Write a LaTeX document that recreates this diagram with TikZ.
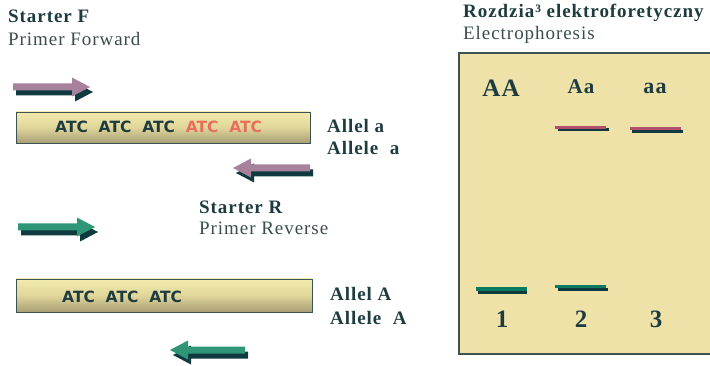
\documentclass[tikz,border=0pt]{standalone}
\usepackage{fontspec}
\setmainfont{Liberation Serif}[LetterSpace=5]
\newfontfamily\seqfont{DejaVu Sans}
\usepackage{tikz}
\definecolor{inkdark}{HTML}{1E3C40}
\definecolor{inkgray}{HTML}{3C4C4E}
\definecolor{shadowdark}{HTML}{0E3A40}
\definecolor{primerpurple}{HTML}{A8829C}
\definecolor{primergreen}{HTML}{2E9676}
\definecolor{bandpink}{HTML}{B0506C}
\definecolor{bandgreen}{HTML}{0B7A5E}
\definecolor{gelfill}{HTML}{EEE2A8}
\definecolor{baredge}{HTML}{3C5254}
\definecolor{bartop}{HTML}{F2EAAE}
\definecolor{barmid}{HTML}{E0D69A}
\definecolor{barbottom}{HTML}{A89E76}
\definecolor{atcred}{HTML}{E86E5C}
\tikzset{
    title/.style={anchor=base west, inner sep=0pt, text=inkdark, font=\fontsize{19}{22}\selectfont\bfseries},
    subtitle/.style={anchor=base west, inner sep=0pt, text=inkgray, font=\fontsize{19}{22}\selectfont},
    lane/.style={anchor=base, inner sep=0pt, text=inkdark, font=\bfseries},
    sequence/.style={anchor=base west, inner sep=0pt, text=inkdark, font=\seqfont\bfseries\fontsize{15.5}{17}\selectfont},
    dna bar/.style={draw=baredge, line width=0.8pt, top color=bartop, bottom color=barbottom, middle color=barmid},
    pics/primer/.style n args={2}{code={
        \pgfmathsetmacro\headx{#1-18*sign(#1)}
        \fill[shadowdark, shift={(3,5)}] (0,-3.5) -- (\headx,-3.5) -- (\headx,-9.5) -- (#1,0)
            -- (\headx,9.5) -- (\headx,3.5) -- (0,3.5) -- cycle;
        \fill[#2] (0,-3.5) -- (\headx,-3.5) -- (\headx,-9.5) -- (#1,0)
            -- (\headx,9.5) -- (\headx,3.5) -- (0,3.5) -- cycle;
    }},
}
\begin{document}
\begin{tikzpicture}[x=1pt, y=-1pt]
\useasboundingbox (0,0) rectangle (710,366);
\node[title] (startF) at (8,23) {Starter F};
\node[subtitle] (primerF) at (8,46) {Primer Forward};
\node[title] (startR) at (199,214) {Starter R};
\node[subtitle] (primerR) at (199,235) {Primer Reverse};
\node[title] (gelT) at (463,18) {Rozdzia³ elektroforetyczny};
\node[subtitle] (gelS) at (463,40) {Electrophoresis};

\pic at (13,87) {primer={77}{primerpurple}};
\pic at (310,168) {primer={-77}{primerpurple}};
\pic at (18,227) {primer={77}{primergreen}};
\pic at (245,350) {primer={-75}{primergreen}};

\filldraw[dna bar] (16,112) rectangle (310,143);
\node[sequence] (seqa) at (55,133) {ATC\ \ ATC\ \ ATC\ \ \textcolor{atcred}{ATC\ \ ATC}};
\filldraw[dna bar] (16,279) rectangle (312,312);
\node[sequence] (seqA) at (62,302) {ATC\ \ ATC\ \ ATC};

\node[title] (allela) at (327,133) {Allel a};
\node[title] (allelea) at (327,155) {Allele\ \ a};
\node[title] (allelA) at (330,301) {Allel A};
\node[title] (alleleA) at (330,324) {Allele\ \ A};

\filldraw[fill=gelfill, draw=baredge, line width=1.5pt] (459,53) rectangle (712,354);
\node[lane, font=\fontsize{25}{28}\selectfont\bfseries] (AA) at (501,97) {AA};
\node[lane, font=\fontsize{21}{24}\selectfont\bfseries] (Aa) at (581,94) {Aa};
\node[lane, font=\fontsize{22}{24}\selectfont\bfseries] (aa) at (655,94) {aa};
\fill[shadowdark] (558,128.5) rectangle (609,131.5);
\fill[bandpink] (555,126) rectangle (606,129);
\fill[shadowdark] (632,130) rectangle (683,133);
\fill[bandpink] (630,127) rectangle (681,130);
\fill[shadowdark] (478,291) rectangle (527,294);
\fill[bandgreen] (476,287) rectangle (527,291);
\fill[shadowdark] (558,288) rectangle (608,291);
\fill[bandgreen] (555,285) rectangle (606,288);
\node[lane, font=\fontsize{25}{28}\selectfont\bfseries] (l1) at (502,327) {1};
\node[lane, font=\fontsize{25}{28}\selectfont\bfseries] (l2) at (581,327) {2};
\node[lane, font=\fontsize{25}{28}\selectfont\bfseries] (l3) at (656,327) {3};
\end{tikzpicture}
\end{document}
